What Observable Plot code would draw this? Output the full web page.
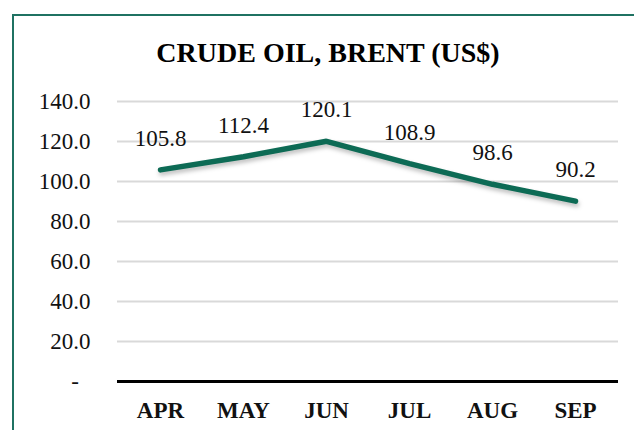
<!DOCTYPE html>
<html>
<head>
<meta charset="utf-8">
<script src="https://cdn.jsdelivr.net/npm/d3@7"></script>
<script src="https://cdn.jsdelivr.net/npm/@observablehq/plot@0.6"></script>
<style>
  html, body { margin: 0; padding: 0; background: #fff; }
  #wrap { position: relative; width: 634px; height: 430px; overflow: hidden; }
  #frame { position: absolute; left: 12px; top: 14px; width: 700px; height: 500px;
           border-left: 2px solid #1f7262; border-top: 2px solid #1f7262; box-sizing: border-box; }
  #chart { position: absolute; left: 0; top: 0; }
  #chart svg, #chart svg text { font-family: 'Liberation Serif', 'Times New Roman', serif !important; }
</style>
</head>
<body>
<div id="wrap"><div id="frame"></div><div id="chart"></div></div>
<script>
const title = "CRUDE OIL, BRENT (US$)";
const months = ["APR", "MAY", "JUN", "JUL", "AUG", "SEP"];
const prices = [105.8, 112.4, 120.1, 108.9, 98.6, 90.2];
const yTicks = [0, 20, 40, 60, 80, 100, 120, 140];

const data = months.map((m, i) => ({month: m, price: prices[i]}));
const font = "'Liberation Serif', 'Times New Roman', serif";

const plot = Plot.plot({
  width: 634,
  height: 430,
  marginLeft: 117,
  marginRight: 16,
  marginTop: 101,
  marginBottom: 49,
  style: {fontFamily: font, fontSize: "23px", color: "#111", background: "transparent"},
  x: {type: "point", domain: months, padding: 0.5, label: null},
  y: {domain: [0, 140], label: null},
  marks: [
    Plot.gridY(yTicks, {stroke: "#d9d9d9", strokeOpacity: 1, strokeWidth: 2}),
    Plot.axisY(yTicks, {
      tickSize: 0, tickPadding: 27, fontSize: 23, fontFamily: font, label: null,
      tickFormat: d => d === 0 ? "-\u00A0\u00A0" : d.toFixed(1)
    }),
    Plot.axisX(months, {tickSize: 0, tickPadding: 20, fontSize: 23, fontFamily: font, fontWeight: "bold", label: null}),
    Plot.ruleY([0], {stroke: "#000", strokeWidth: 3}),
    Plot.line(data, {x: "month", y: "price", stroke: "#0d6b55", strokeWidth: 5.5, strokeLinecap: "round", strokeLinejoin: "miter"}),
    Plot.text(data, {x: "month", y: "price", text: d => d.price.toFixed(1), dy: -24, lineAnchor: "bottom", fontSize: 23, fontFamily: font, fill: "#111"})
  ]
});

d3.select(plot).selectAll('g[aria-label="line"] path')
  .style("filter", "drop-shadow(1px 3px 2px rgba(0,0,0,0.25))");

d3.select(plot).append("text")
  .attr("x", 328).attr("y", 62)
  .attr("text-anchor", "middle")
  .attr("font-family", font)
  .attr("font-size", 28)
  .attr("font-weight", "bold")
  .attr("fill", "#000")
  .text(title);

document.getElementById("chart").appendChild(plot);
</script>
</body>
</html>
